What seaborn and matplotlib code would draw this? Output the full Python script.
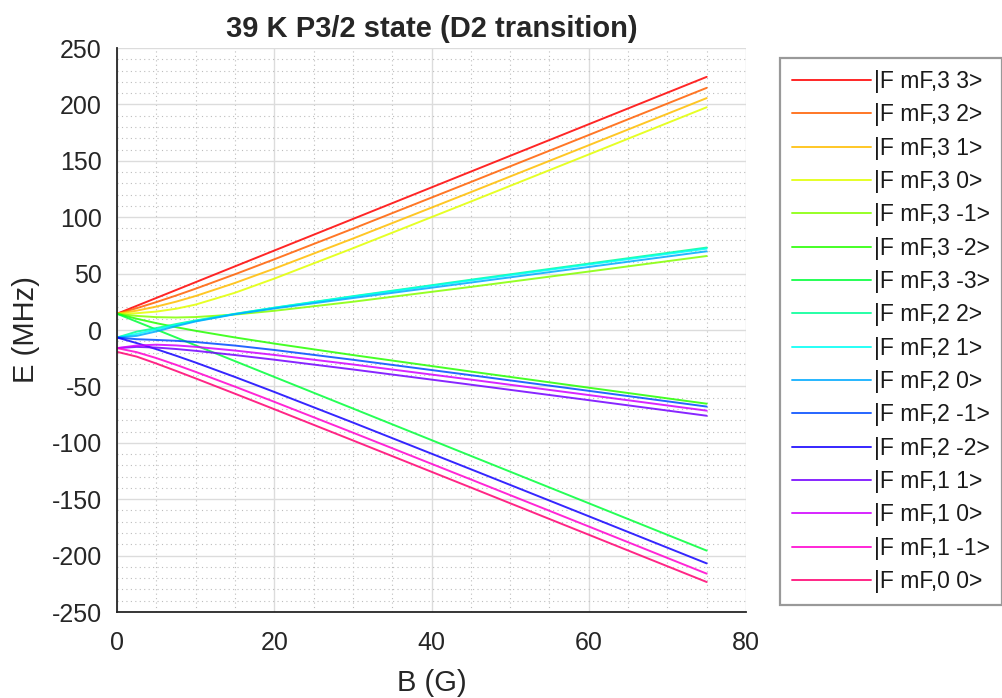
import matplotlib
matplotlib.use("Agg")
import numpy as np
import pandas as pd
import matplotlib.pyplot as plt
import seaborn as sns
from matplotlib import font_manager
from matplotlib.ticker import MultipleLocator
import matplotlib.colors as mcolors

# ---------------- data ----------------
B_field = [0, 2.5, 5, 7.5, 10, 15, 20, 30, 45, 60, 75]

E_3_3 = [14.41, 21.41, 28.41, 35.41, 42.41, 56.41, 70.42, 98.41, 140.41, 182.41, 224.41]
E_3_2 = [14.41, 19.33, 24.73, 30.52, 36.62, 49.40, 62.65, 89.79, 131.18, 172.86, 214.66]
E_3_1 = [14.41, 17.16, 20.73, 25.09, 30.14, 41.70, 54.37, 81.04, 122.21, 163.82, 205.59]
E_3_0 = [14.41, 14.88, 16.31, 18.83, 22.54, 33.00, 45.56, 72.44, 113.86, 155.61, 197.47]
E_3_m1 = [14.41, 12.49, 11.40, 11.09, 11.47, 13.70, 17.03, 25.04, 38.21, 51.82, 65.59]
E_3_m2 = [14.41, 10.00, 6.06, 2.52, -0.72, -6.60, -12.03, -22.21, -36.82, -51.14, -65.34]
E_3_m3 = [14.41, 7.41, 0.41, -6.59, -13.60, -27.59, -41.60, -69.59, -111.59, -153.59, -195.59]
E_2_2 = [-6.66, -1.45, 1.69, 5.23, 8.47, 14.35, 19.78, 29.96, 44.57, 58.89, 73.09]
E_2_1 = [-6.66, -3.48, 0.52, 4.44, 8.01, 14.20, 19.64, 29.63, 43.95, 58.07, 72.12]
E_2_0 = [-6.66, -5.21, -1.25, 3.39, 7.59, 14.01, 19.06, 28.33, 42.07, 55.88, 69.76]
E_2_m1 = [-6.66, -8.15, -8.82, -9.57, -10.66, -13.80, -17.70, -26.38, -40.05, -53.93, -67.88]
E_2_m2 = [-6.66, -11.58, -16.98, -22.77, -28.87, -41.65, -54.90, -82.04, -123.43, -165.11, -206.91]
E_1_1 = [-16.06, -14.99, -15.56, -16.84, -18.46, -22.21, -26.31, -34.98, -48.47, -62.19, -76.02]
E_1_0 = [-16.06, -13.77, -13.02, -13.67, -14.91, -18.21, -22.09, -30.56, -43.97, -57.68, -71.50]
E_1_m1 = [-16.06, -19.65, -24.89, -30.84, -37.13, -50.21, -63.65, -90.98, -132.47, -174.19, -216.02]
E_0_0 = [-19.37, -23.58, -29.72, -36.23, -42.90, -56.47, -70.21, -97.88, -139.63, -181.50, -223.41]

state_labels = ["|F mF,3 3>", "|F mF,3 2>", "|F mF,3 1>", "|F mF,3 0>",
                "|F mF,3 -1>", "|F mF,3 -2>", "|F mF,3 -3>", "|F mF,2 2>",
                "|F mF,2 1>", "|F mF,2 0>", "|F mF,2 -1>", "|F mF,2 -2>",
                "|F mF,1 1>", "|F mF,1 0>", "|F mF,1 -1>", "|F mF,0 0>"]
state_values = [E_3_3, E_3_2, E_3_1, E_3_0, E_3_m1, E_3_m2, E_3_m3, E_2_2,
                E_2_1, E_2_0, E_2_m1, E_2_m2, E_1_1, E_1_0, E_1_m1, E_0_0]

x_ticks = [0, 20, 40, 60, 80]
y_ticks = [-250, -200, -150, -100, -50, 0, 50, 100, 150, 200, 250]

# ---------------- fonts ----------------
def pick(names):
    for n in names:
        try:
            font_manager.findfont(n, fallback_to_default=False)
            return n
        except Exception:
            pass
    return "DejaVu Sans"

regular = pick(["Liberation Sans", "DejaVu Sans"])

sns.set_theme(style="white")
plt.rcParams["font.family"] = [regular, "DejaVu Sans"]
plt.rcParams["axes.unicode_minus"] = False

# ---------------- build long data ----------------
rows = []
for lab, vals in zip(state_labels, state_values):
    for b, e in zip(B_field, vals):
        rows.append((lab, b, e))
df = pd.DataFrame(rows, columns=["state", "B", "E"])

cmap = plt.get_cmap("hsv")
palette = [mcolors.to_hex(cmap(i / 16.0)) for i in range(16)]

W, H = 1002, 698
fig = plt.figure(figsize=(W / 100, H / 100), dpi=100)
ax = fig.add_axes([117 / W, 1 - 612 / H, (746 - 117) / W, (612 - 48) / H])

sns.lineplot(data=df, x="B", y="E", hue="state", hue_order=state_labels,
             palette=palette, estimator=None, sort=False, ax=ax,
             linewidth=1.4, alpha=0.85, legend=True)

ax.set_xlim(0, 80)
ax.set_ylim(-250, 250)
ax.set_xticks(x_ticks)
ax.set_yticks(y_ticks)
ax.xaxis.set_minor_locator(MultipleLocator(5))
ax.yaxis.set_minor_locator(MultipleLocator(10))

ax.grid(which="major", color="#dcdcdc", linestyle="-", linewidth=1.0)
ax.grid(which="minor", color="#bdbdbd", linestyle=(0, (1, 3)), linewidth=0.8)
ax.set_axisbelow(True)

for s in ["top", "right"]:
    ax.spines[s].set_visible(False)
for s in ["left", "bottom"]:
    ax.spines[s].set_visible(True)
    ax.spines[s].set_color("#262626")
    ax.spines[s].set_linewidth(1.3)

ax.tick_params(axis="x", which="major", direction="in", length=5,
               width=1.0, color="#262626", labelcolor="#262626", pad=14,
               labelsize=18)
ax.tick_params(axis="y", which="major", direction="in", length=5,
               width=1.0, color="#262626", labelcolor="#262626", pad=11,
               labelsize=18)
ax.tick_params(axis="both", which="minor", direction="in", length=0)

ax.set_xlabel("B (G)", fontsize=21, color="#262626", labelpad=10)
ax.set_ylabel("E (MHz)", fontsize=21, color="#262626", labelpad=8)
ax.set_title("39 K P3/2 state (D2 transition)", fontsize=21,
             fontweight="bold", pad=8)

handles, labels = ax.get_legend_handles_labels()
leg = ax.legend(handles, labels, loc="upper left",
                bbox_to_anchor=(780 / W, 1 - 58 / H), bbox_transform=fig.transFigure,
                frameon=True, fancybox=False, edgecolor="#808080",
                fontsize=16.5, handlelength=3.45, handletextpad=0.13,
                labelspacing=0.45, borderpad=0.53, borderaxespad=0)
leg.get_frame().set_linewidth(1.6)
for t in leg.get_texts():
    t.set_color("#1a1a1a")

fig.savefig("out.png", dpi=100)
